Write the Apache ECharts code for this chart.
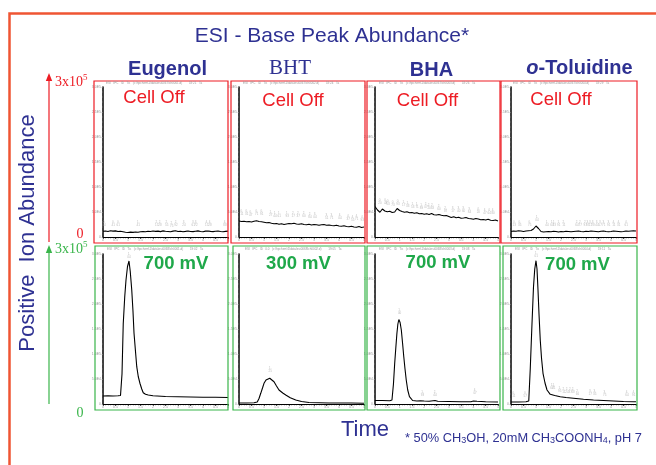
<!DOCTYPE html>
<html><head><meta charset="utf-8">
<script src="https://cdn.jsdelivr.net/npm/echarts/dist/echarts.min.js"></script>
<style>html,body{margin:0;padding:0;background:#fff}#c{width:656px;height:465px}</style>
</head><body><div id="c"></div>
<script>
// ---------- data ----------
const compounds = ['Eugenol', 'BHT', 'BHA', 'o-Toluidine'];
const offLabel = 'Cell Off';
const voltages = ['700 mV', '300 mV', '700 mV', '700 mV'];
const xTickLabels = ['0','0.5','1','1.5','2','2.5','3','3.5','4','4.5','5'];
const yTickLabels = ['0','5.0E4','1.0E5','1.5E5','2.0E5','2.5E5','3.0E5'];

const tTop = [0,0.1,0.2,0.3,0.4,0.5,0.6,0.7,0.8,0.9,1,1.1,1.2,1.3,1.4,1.5,1.6,1.7,1.8,1.9,2,2.1,2.2,2.3,2.4,2.5,2.6,2.7,2.8,2.9,3,3.1,3.2,3.3,3.4,3.5,3.6,3.7,3.8,3.9,4,4.1,4.2,4.3,4.4,4.5,4.6,4.7,4.8,4.9,5];
const eugenolOff = [11500,12000,11000,12500,11800,12200,11000,11500,10500,9500,9000,9800,9200,10000,9500,10500,11000,10500,11500,11000,12000,11200,11800,10800,12200,11500,11000,10500,11800,12500,11000,11500,10500,11200,12000,11000,10800,11500,12200,11000,10500,11800,12000,11200,10800,11500,12000,11000,10500,11200,11800];
const bhtOff = [32000,31000,31500,30500,31000,30000,31500,32500,31000,30500,29500,28500,29000,27500,26500,27000,25500,26500,25000,26000,27000,26500,27500,26000,25500,26500,25000,24500,25500,24000,25000,24500,23500,24500,25000,23500,24000,23000,22500,23500,22000,21500,22500,21000,20500,21500,20000,19500,21000,19000,20000];
const bhaOff = [61000,54000,49500,56000,52000,50500,51500,49000,50000,57000,53000,51000,49500,50500,48500,49000,47500,48500,46500,47000,45500,46500,45000,47000,44500,44000,45000,43500,42500,43000,41000,39000,40500,38500,39500,37500,38000,39000,37000,36500,35500,37000,36000,34500,35000,34000,35500,33500,33000,34000,32000];
const toluidineOff = [11000,12000,11500,12500,12000,11000,12000,12500,13000,16000,22000,17000,11000,10000,10500,11000,10500,11500,11000,10000,11000,10500,11500,11000,10500,11000,11500,12000,11000,10500,11500,11000,12000,11500,11000,10500,11500,12000,11000,10500,11000,12000,11500,11000,10500,11000,12000,11500,12000,12500,12000];

const eugenolOn = [[0,16000],[0.2,16500],[0.4,16000],[0.6,16500],[0.7,17000],[0.76,60000],[0.81,161000],[0.87,215000],[0.92,248000],[0.98,275000],[1.04,286000],[1.09,265000],[1.15,228000],[1.2,185000],[1.24,142000],[1.3,105000],[1.35,74600],[1.41,55000],[1.48,41000],[1.55,30000],[1.61,22600],[1.7,19500],[1.81,18000],[2,16500],[2.5,15000],[3,14500],[3.5,14000],[4,13500],[4.5,13500],[5,13000]];
const bhtOn = [[0,2000],[0.3,2000],[0.6,2500],[0.73,4000],[0.8,11000],[0.87,21400],[0.94,32000],[1.0,41400],[1.08,48000],[1.15,51000],[1.23,51400],[1.3,49500],[1.4,44600],[1.5,36000],[1.6,28000],[1.75,22000],[1.87,18000],[2.05,12500],[2.27,8000],[2.5,5000],[2.8,3000],[3.2,2500],[3.6,2000],[4,2000],[4.5,2000],[5,1500]];
const bhaOn = [[0,7000],[0.3,7000],[0.6,6500],[0.69,8000],[0.75,40000],[0.8,81000],[0.85,115000],[0.89,141000],[0.93,160000],[0.97,169000],[1.02,163000],[1.07,148000],[1.12,122000],[1.17,94600],[1.22,70000],[1.27,48000],[1.33,28000],[1.4,14600],[1.53,7000],[1.7,6000],[1.85,6500],[1.93,8000],[2.0,6000],[2.2,5500],[2.44,7000],[2.55,5500],[3,5000],[3.5,4500],[3.9,4500],[4.0,6000],[4.07,9500],[4.15,5500],[4.5,4500],[5,4000]];
const toluidineOn = [[0,4000],[0.3,4000],[0.6,4500],[0.71,6000],[0.77,70000],[0.84,161000],[0.9,234600],[0.95,270000],[1.0,286600],[1.04,270000],[1.08,228000],[1.12,180000],[1.17,128000],[1.22,92000],[1.28,61400],[1.36,42000],[1.44,28000],[1.57,19400],[1.75,17000],[1.97,14600],[2.2,13000],[2.5,11500],[2.9,9400],[3.3,8000],[3.7,7000],[4.1,6000],[4.5,5000],[4.9,4600],[5,4500]];

// retention-time annotations [time, abundance]
const rtEugenolOff = [[0.04,26000],[0.41,26000],[0.61,26000],[1.41,26000],[2.15,26000],[2.28,26000],[2.55,26000],[2.75,24000],[2.92,27000],[3.24,26000],[3.61,26000],[3.72,26000],[4.15,26000],[4.28,26000],[4.88,26000]];
const rtBhtOff = [[0.11,49000],[0.31,48000],[0.47,47500],[0.71,49000],[0.91,48000],[1.27,46000],[1.44,45000],[1.61,44500],[1.93,45500],[2.17,45000],[2.37,44000],[2.6,44500],[2.84,43000],[3.04,42000],[3.51,41000],[3.71,40500],[4.04,40000],[4.37,39000],[4.55,37500],[4.71,38000],[4.93,37000]];
const rtBhaOff = [[0.2,70000],[0.43,70000],[0.53,69000],[0.73,67000],[0.93,68000],[1.17,66000],[1.33,65000],[1.53,63000],[1.71,62000],[1.89,61000],[2.07,62000],[2.2,61500],[2.33,60500],[2.6,58000],[2.87,55000],[3.17,55000],[3.4,54000],[3.6,54000],[3.84,53000],[4.2,52000],[4.47,51000],[4.64,51000],[4.8,50500]];
const rtToluidineOff = [[0.13,27400],[0.35,27400],[0.75,27400],[1.04,37400],[1.44,27400],[1.64,27400],[1.73,27400],[1.91,27400],[2.11,27400],[2.64,27400],[2.77,27400],[2.97,27400],[3.07,27400],[3.17,27400],[3.28,27400],[3.44,27400],[3.57,27400],[3.71,27400],[3.91,27400],[4.11,27400],[4.31,27400],[4.61,27400]];
const rtEugenolOn = [[1.04,296000]];
const rtBhtOn = [[1.25,68000]];
const rtBhaOn = [[1.0,184600],[1.93,20000],[2.44,20000],[4.07,24600]];
const rtToluidineOn = [[0.11,19400],[0.57,19400],[1.01,298000],[1.64,34600],[1.71,34600],[1.95,28000],[2.11,27000],[2.24,26000],[2.37,26000],[2.48,26000],[2.66,23400],[3.17,23400],[3.35,22000],[3.75,21400],[4.64,21400],[4.91,21400]];

const headerTexts = [
  'ESI   IPC   ID   Tic   (c:\\hpchem\\1\\data\\esi0067\\ch0001.d)        18:21   Ta',
  'ESI   IPC   ID   Tic   (c:\\hpchem\\1\\data\\esi0067\\ch0002.d)        18:24   Ta',
  'ESI   IPC   ID   Tic   (c:\\hpchem\\1\\data\\esi0067\\ch0003.d)        18:26   Ta',
  'ESI   IPC   ID   Tic   (c:\\hpchem\\1\\data\\esi0067\\ch0004.d)        18:29   Ta',
  'ESI   IPC   ID   Tic   (c:\\hpchem\\1\\data\\esi0068\\ch0001.d)        19:02   Ta',
  'ESI   IPC   ID   0.0   (c:\\hpchem\\1\\data\\esi0068\\ch0002.d)        19:05   Ta',
  'ESI   IPC   ID   Tic   (c:\\hpchem\\1\\data\\esi0068\\ch0003.d)        19:08   Ta',
  'ESI   IPC   ID   Tic   (c:\\hpchem\\1\\data\\esi0068\\ch0004.d)        19:11   Ta'
];

// ---------- build ----------
const tracesTop = [eugenolOff, bhtOff, bhaOff, toluidineOff].map(v => v.map((y, k) => [tTop[k], y]));
const tracesBottom = [eugenolOn, bhtOn, bhaOn, toluidineOn];
const rtTop = [rtEugenolOff, rtBhtOff, rtBhaOff, rtToluidineOff];
const rtBottom = [rtEugenolOn, rtBhtOn, rtBhaOn, rtToluidineOn];

const gridLefts = [103, 239, 375, 511];
const gridWidths = [125, 125, 123, 125];
const rowTops = [87, 254];
const panelTop = [{x:94,y:81,w:134,h:162},{x:231,y:81,w:134,h:162},{x:367,y:81,w:133,h:162},{x:501,y:81,w:136,h:162}];
const panelBot = [{x:95,y:246,w:133,h:164},{x:233,y:246,w:132,h:164},{x:367,y:246,w:133,h:164},{x:503,y:246,w:134,h:164}];

const BLUE = '#2e3192', RED = '#ed1c24', GREEN = '#39b54a', GREEN_T = '#1fa84a';
const SANS = '"Liberation Sans", Arial, sans-serif';
const SERIF = '"Liberation Serif", "Times New Roman", serif';

const grids = [], xAxes = [], yAxes = [], series = [];
for (let r = 0; r < 2; r++) {
  for (let c = 0; c < 4; c++) {
    const i = r * 4 + c;
    grids.push({left: gridLefts[c], top: rowTops[r], width: gridWidths[c], height: 150});
    xAxes.push({
      type: 'value', gridIndex: i, min: 0, max: 5, interval: 0.5,
      axisLine: {onZero: false, lineStyle: {color: '#000', width: 1}},
      axisTick: {show: true, length: 2, lineStyle: {color: '#000', width: 0.7}},
      minorTick: {show: true, splitNumber: 5, length: 1.3, lineStyle: {color: '#000', width: 0.5}},
      axisLabel: {fontSize: 3.5, color: '#999', margin: 1.5,
        formatter: v => xTickLabels[Math.round(v * 2)] || ''},
      splitLine: {show: false}
    });
    yAxes.push({
      type: 'value', gridIndex: i, min: 0, max: 300000, interval: 50000,
      axisLine: {show: true, lineStyle: {color: '#000', width: 1.5}},
      axisTick: {show: true, length: 1.5, lineStyle: {color: '#999', width: 0.5}},
      minorTick: {show: true, splitNumber: 5, length: 1, lineStyle: {color: '#999', width: 0.4}},
      axisLabel: {fontSize: 3.5, color: '#999', margin: 2,
        formatter: v => yTickLabels[Math.round(v / 50000)] || ''},
      splitLine: {show: false}
    });
    series.push({
      type: 'line', xAxisIndex: i, yAxisIndex: i, symbol: 'none', silent: true,
      data: r === 0 ? tracesTop[c] : tracesBottom[c],
      lineStyle: {color: '#000', width: 1.1}, animation: false
    });
    series.push({
      type: 'scatter', xAxisIndex: i, yAxisIndex: i, symbolSize: 0, silent: true,
      data: r === 0 ? rtTop[c] : rtBottom[c], animation: false,
      label: {show: true, position: 'inside', fontSize: 3, color: '#aaa', lineHeight: 3,
        formatter: p => p.value[0].toFixed(2).replace('.', '.\n')}
    });
  }
}

const g = [];
// outer frame
g.push({type: 'polyline', shape: {points: [[9.5, 480], [9.5, 13.5], [670, 13.5]]},
  style: {stroke: '#ef5533', lineWidth: 2.5, fill: null}, z: 10});
// panel boxes + headers + inner labels
panelTop.forEach((p, c) => {
  g.push({type: 'rect', shape: {x: p.x, y: p.y, width: p.w, height: p.h},
    style: {fill: 'transparent', stroke: RED, lineWidth: 1.2}, z: 10});
  g.push({type: 'text', x: p.x + 12, y: p.y + 2.5, z: 10,
    style: {text: headerTexts[c], font: '3px ' + SANS, fill: '#999', align: 'left', verticalAlign: 'middle'}});
  g.push({type: 'text', x: [154, 293, 427.5, 561][c], y: [98, 101, 101, 100][c], z: 10,
    style: {text: offLabel, font: '18.5px ' + SANS, fill: RED, align: 'center', verticalAlign: 'middle'}});
});
panelBot.forEach((p, c) => {
  g.push({type: 'rect', shape: {x: p.x, y: p.y, width: p.w, height: p.h},
    style: {fill: 'transparent', stroke: GREEN, lineWidth: 1.2}, z: 10});
  g.push({type: 'text', x: p.x + 12, y: p.y + 3, z: 10,
    style: {text: headerTexts[4 + c], font: '3px ' + SANS, fill: '#999', align: 'left', verticalAlign: 'middle'}});
  g.push({type: 'text', x: [176, 298.5, 438, 577.5][c], y: [264, 264, 263, 265][c], z: 10,
    style: {text: voltages[c], font: 'bold 18.5px ' + SANS, fill: GREEN_T, align: 'center', verticalAlign: 'middle'}});
});
// title and compound names
g.push({type: 'text', x: 332, y: 36, z: 10,
  style: {text: 'ESI - Base Peak Abundance*', font: '21px ' + SANS, fill: BLUE, align: 'center', verticalAlign: 'middle'}});
g.push({type: 'text', x: 167.5, y: 69, z: 10,
  style: {text: compounds[0], font: 'bold 20px ' + SANS, fill: BLUE, align: 'center', verticalAlign: 'middle'}});
g.push({type: 'text', x: 290, y: 68, z: 10,
  style: {text: compounds[1], font: '21px ' + SERIF, fill: BLUE, align: 'center', verticalAlign: 'middle'}});
g.push({type: 'text', x: 431.5, y: 70, z: 10,
  style: {text: compounds[2], font: 'bold 20px ' + SANS, fill: BLUE, align: 'center', verticalAlign: 'middle'}});
g.push({type: 'text', x: 579.5, y: 68, z: 10,
  style: {text: '{i|' + compounds[3].slice(0, 1) + '}{n|' + compounds[3].slice(1) + '}',
    align: 'center', verticalAlign: 'middle',
    rich: {i: {font: 'italic bold 20px ' + SANS, fill: BLUE}, n: {font: 'bold 20px ' + SANS, fill: BLUE}}}});
// left y annotation
g.push({type: 'line', shape: {x1: 49, y1: 242, x2: 49, y2: 79}, style: {stroke: RED, lineWidth: 1.2}, z: 10});
g.push({type: 'polygon', shape: {points: [[49, 73], [45.8, 81], [52.2, 81]]}, style: {fill: RED}, z: 10});
g.push({type: 'line', shape: {x1: 49, y1: 404, x2: 49, y2: 251}, style: {stroke: GREEN, lineWidth: 1.2}, z: 10});
g.push({type: 'polygon', shape: {points: [[49, 245], [45.8, 253], [52.2, 253]]}, style: {fill: GREEN}, z: 10});
[[RED, 82, 234], [GREEN, 249, 413]].forEach(([col, yTop, yZero]) => {
  g.push({type: 'text', x: 55, y: yTop, z: 10,
    style: {text: '{a|3x10}{s|5}', align: 'left', verticalAlign: 'middle',
      rich: {a: {font: '14px ' + SERIF, fill: col}, s: {font: '9px ' + SERIF, fill: col, verticalAlign: 'top', padding: [0, 0, 8, 0]}}}});
  g.push({type: 'text', x: 80, y: yZero, z: 10,
    style: {text: '0', font: '14px ' + SERIF, fill: col, align: 'center', verticalAlign: 'middle'}});
});
g.push({type: 'text', x: 28, y: 233, rotation: Math.PI / 2, z: 10,
  style: {text: 'Positive  Ion Abundance', font: '22px ' + SANS, fill: BLUE, align: 'center', verticalAlign: 'middle'}});
// bottom texts
g.push({type: 'text', x: 365, y: 430, z: 10,
  style: {text: 'Time', font: '22px ' + SANS, fill: BLUE, align: 'center', verticalAlign: 'middle'}});
g.push({type: 'text', x: 405, y: 438, z: 10,
  style: {text: '{t|* 50% CH}{s|3}{t|OH, 20mM CH}{s|3}{t|COONH}{s|4}{t|, pH 7}', align: 'left', verticalAlign: 'middle',
    rich: {t: {font: '12.8px ' + SANS, fill: BLUE}, s: {font: '9px ' + SANS, fill: BLUE, padding: [6, 0, 0, 0]}}}});

const chart = echarts.init(document.getElementById('c'), null, {renderer: 'canvas'});
chart.setOption({
  animation: false,
  backgroundColor: '#fff',
  grid: grids, xAxis: xAxes, yAxis: yAxes, series: series, graphic: g
});
</script></body></html>
